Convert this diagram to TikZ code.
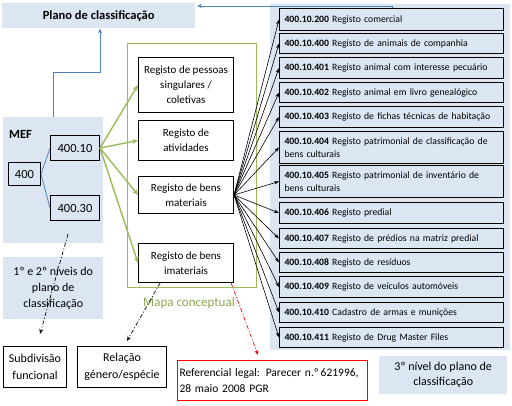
\documentclass[tikz,border=0pt]{standalone}
\usepackage{fontspec}
\setmainfont{Carlito}
\usetikzlibrary{arrows.meta,calc}
\definecolor{panelblue}{HTML}{DCE6F2}
\definecolor{lineblue}{HTML}{4F81BD}
\definecolor{mgreen}{HTML}{9BBB59}
\begin{document}
\begin{tikzpicture}[x=1pt,y=-1pt,
  panel/.style={fill=panelblue, draw=none, inner sep=0pt, anchor=north west, align=center},
  kbox/.style={draw=black, line width=1pt, inner sep=0pt, anchor=north west, align=center},
  rbox/.style={draw=black, line width=1pt, anchor=north west, minimum width=224pt, text width=214pt, inner xsep=5pt, inner ysep=0pt, align=left, font=\fontsize{9.7}{13}\selectfont},
  blk/.style={-{Stealth[length=5pt,width=3.5pt]}, line width=0.6pt},
  grn/.style={-{Stealth[length=6pt,width=5pt]}, draw=mgreen, line width=1.4pt},
  blu/.style={draw=lineblue, line width=0.8pt},
  dashdot/.style={dash pattern=on 4pt off 2pt on 1pt off 2pt, line width=0.7pt, -{Stealth[length=5pt,width=4pt]}},
]
\useasboundingbox (0,0) rectangle (512,405);

% panels
\node[panel, minimum width=193pt, minimum height=25pt, font=\bfseries\fontsize{12.5}{15}\selectfont] (plano) at (2,3) {Plano de classificação};
\node[panel, minimum width=240pt, minimum height=346pt] (rp) at (270,4) {};
\node[panel, minimum width=100pt, minimum height=126pt] (mef) at (3,117) {};
\node[anchor=west, inner sep=0pt, font=\bfseries\fontsize{12.5}{15}\selectfont] (meft) at (9,134) {MEF};
\node[panel, minimum width=100pt, minimum height=62pt, font=\fontsize{12}{16}\selectfont] (niv12) at (3,257) {1º e 2º níveis do\\plano de\\classificação};
\node[panel, minimum width=128pt, minimum height=38pt, font=\fontsize{12}{15}\selectfont] (niv3) at (379,356) {3º nível do plano de\\classificação};

% MEF boxes
\node[kbox, minimum width=32pt, minimum height=23pt, font=\fontsize{12.5}{15}\selectfont] (b400) at (8,162) {400};
\node[kbox, minimum width=49pt, minimum height=25pt, font=\fontsize{12.5}{15}\selectfont] (b4010) at (50,135) {400.10};
\node[kbox, minimum width=49pt, minimum height=25pt, font=\fontsize{12.5}{15}\selectfont] (b4030) at (50,195) {400.30};
\draw[blu] (b400.east) -- (b4010.west);
\draw[blu] (b400.east) -- (b4030.west);

% green frame
\node[draw=mgreen, line width=1pt, anchor=north west, minimum width=129pt, minimum height=244pt, inner sep=0pt] (mapa) at (127,43) {};
\node[text=mgreen!90!black, inner sep=0pt, font=\fontsize{13}{15}\selectfont] (mapat) at (189,303) {Mapa conceptual};

\node[kbox, fill=white, minimum width=95pt, minimum height=55pt, font=\fontsize{11}{15}\selectfont] (m1) at (138,57) {Registo de pessoas\\singulares /\\coletivas};
\node[kbox, fill=white, minimum width=95pt, minimum height=40pt, font=\fontsize{11}{15}\selectfont] (m2) at (138,120) {Registo de\\atividades};
\node[kbox, fill=white, minimum width=95pt, minimum height=37pt, font=\fontsize{11}{15}\selectfont] (m3) at (138,176) {Registo de bens\\materiais};
\node[kbox, fill=white, minimum width=95pt, minimum height=39pt, font=\fontsize{11}{15}\selectfont] (m4) at (138,243) {Registo de bens\\imateriais};

\foreach \m in {m1,m2,m3,m4} \draw[grn] (b4010.east) -- (\m.west);

% right boxes
\node[rbox, minimum height=22pt] (r1) at (279,8) {\textbf{400.10.200} Registo comercial};
\node[rbox, minimum height=20pt] (r2) at (279,33) {\textbf{400.10.400} Registo de animais de companhia};
\node[rbox, minimum height=21pt] (r3) at (279,57) {\textbf{400.10.401} Registo animal com interesse pecuário};
\node[rbox, minimum height=20pt] (r4) at (279,82) {\textbf{400.10.402} Registo animal em livro genealógico};
\node[rbox, minimum height=21pt] (r5) at (279,106) {\textbf{400.10.403} Registo de fichas técnicas de habitação};
\node[rbox, minimum height=32pt] (r6) at (279,131) {\textbf{400.10.404} Registo patrimonial de classificação de\\bens culturais};
\node[rbox, minimum height=32pt] (r7) at (279,165) {\textbf{400.10.405} Registo patrimonial de inventário de\\bens culturais};
\node[rbox, minimum height=21pt] (r8) at (279,202) {\textbf{400.10.406} Registo predial};
\node[rbox, minimum height=20pt] (r9) at (279,228) {\textbf{400.10.407} Registo de prédios na matriz predial};
\node[rbox, minimum height=20pt] (r10) at (279,252) {\textbf{400.10.408} Registo de resíduos};
\node[rbox, minimum height=21pt] (r11) at (279,276) {\textbf{400.10.409} Registo de veículos automóveis};
\node[rbox, minimum height=20pt] (r12) at (279,302) {\textbf{400.10.410} Cadastro de armas e munições};
\node[rbox, minimum height=20pt] (r13) at (279,327) {\textbf{400.10.411} Registo de Drug Master Files};

\foreach \r in {r1,r2,r3,r4,r5,r6,r7,r8,r9,r10,r11,r12,r13} \draw[blk] (m3.east) -- (\r.west);

% blue connectors
\coordinate (mefTop) at (53,117);
\coordinate (mefBend) at (100,72);
\draw[blu, -{Stealth[length=5pt,width=4pt]}] (mefTop) -- (53,72) -- (mefBend) -- (plano.south -| mefBend);
\coordinate (rpTop) at (392,8);
\coordinate (planoTip) at (197,6);
\draw[blu, -{Stealth[length=5pt,width=4pt]}] (rpTop) |- (planoTip);

% bottom boxes
\node[kbox, minimum width=63pt, minimum height=41pt, font=\fontsize{12}{17}\selectfont] (sub) at (3,346) {Subdivisão\\funcional};
\node[kbox, minimum width=89pt, minimum height=41pt, font=\fontsize{12}{17}\selectfont] (rel) at (77,346) {Relação\\género/espécie};
\node[draw=red, line width=1pt, anchor=north west, minimum width=190pt, minimum height=40pt, text width=186pt, inner xsep=2pt, inner ysep=0pt, align=left, font=\fontsize{11.5}{16}\selectfont] (ref) at (177,360) {Referencial legal: Parecer n.º\,621996,\\28 maio 2008 PGR};

% dashed connectors
\coordinate (d1s) at (68,234);
\coordinate (d1e) at (40,334);
\draw[dashdot] (d1s) -- (d1e);
\coordinate (d2e) at (127,341);
\draw[dashdot] ($(m4.south west)!0.23!(m4.south east)$) -- (d2e);
\coordinate (d3e) at (258,355);
\draw[dashdot, draw=red, -{Stealth[length=5pt,width=4pt,fill=red]}] ($(m4.south west)!0.97!(m4.south east)$) -- (d3e);
\end{tikzpicture}
\end{document}
